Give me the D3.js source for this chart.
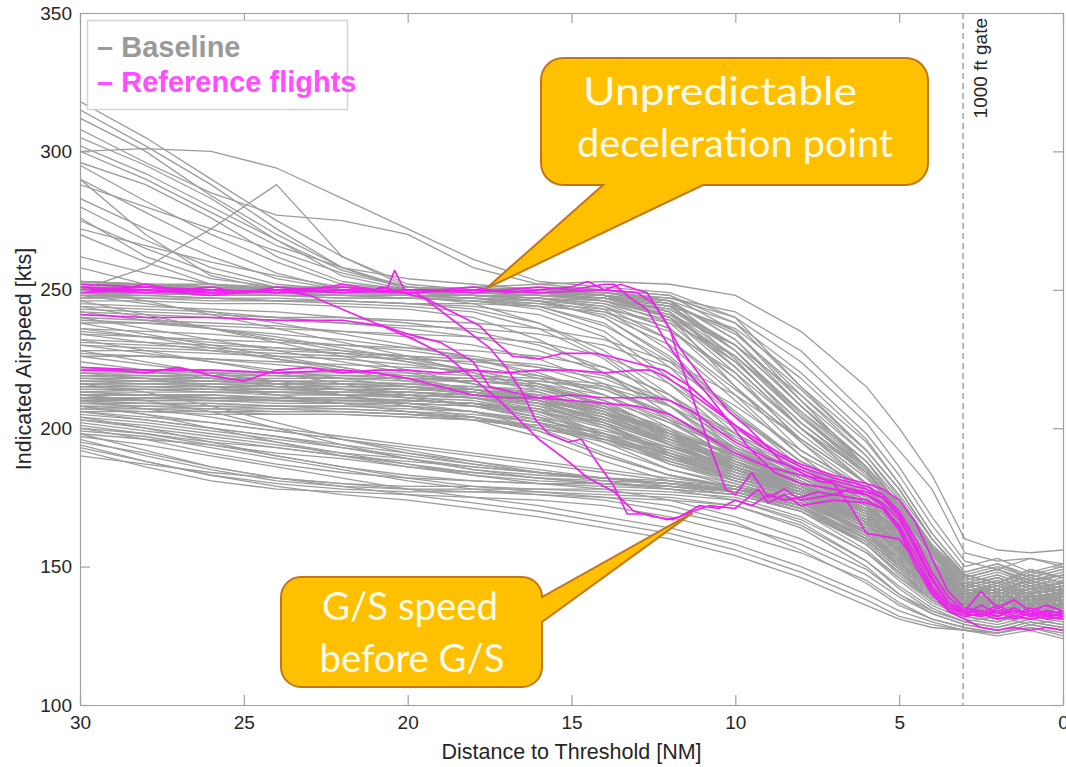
<!DOCTYPE html>
<html>
<head>
<meta charset="utf-8">
<script src="https://cdn.jsdelivr.net/npm/d3@7"></script>
<style>
  html, body { margin: 0; padding: 0; background: #fff; }
  svg { display: block; }
</style>
</head>
<body>
<svg id="chart" width="1066" height="767"></svg>
<script>
// Distance grid (NM to threshold) shared by the baseline traces
const gridNM = [30, 28, 26, 24, 22, 20, 18, 16, 14, 12, 10, 8, 6, 5, 4, 3, 2, 1, 0];

// Baseline flights: indicated airspeed (kts) at each gridNM point
const baselineHigh = [
  [318,305,290,275,262,252,250,250,249,245,225,200,180,165,150,141,143,140,145],
  [312,300,284,270,258,251,250,251,250,248,235,210,186,172,157,146,149,145,148],
  [305,295,283,268,255,250,249,248,247,240,220,195,175,160,148,139,136,140,137],
  [300,301,300,294,283,272,261,253,251,249,240,215,192,178,160,147,150,146,149],
  [295,282,270,260,252,250,250,249,246,238,218,198,180,168,152,142,139,143,140],
  [290,278,266,256,250,249,248,247,244,232,212,190,172,160,147,138,141,137,139],
  [250,258,272,288,262,251,250,249,248,242,222,200,180,166,150,140,137,141,138],
  [280,268,258,252,250,250,250,250,249,246,228,205,185,170,154,143,146,142,144],
  [275,265,256,251,250,249,248,246,240,225,205,188,175,163,150,140,138,135,139],
  [270,260,252,250,250,251,250,249,247,243,230,208,188,172,156,145,148,144,147],
  [300,290,278,266,258,254,252,250,248,242,222,200,182,170,155,144,141,145,142],
  [308,296,285,277,275,270,258,252,250,246,232,210,190,175,158,147,144,148,146],
  [262,256,252,250,250,250,251,250,250,248,238,215,195,180,162,148,151,147,150],
  [258,252,250,251,250,250,249,249,248,245,235,212,190,176,160,147,144,149,146],
  [290,270,255,250,249,249,248,247,245,236,215,195,178,165,150,140,143,138,141],
  [283,272,262,254,250,250,250,249,249,247,242,228,205,192,178,155,152,153,151],
  [296,288,276,262,253,250,251,252,253,252,248,235,215,200,183,160,156,155,156],
  [276,262,254,251,250,250,249,248,246,240,226,206,186,172,157,146,143,147,144],
  [315,302,288,272,258,250,249,249,248,244,228,204,184,170,154,143,146,142,144],
  [288,280,272,264,256,251,250,249,247,241,224,202,183,170,154,143,140,144,141],
  [272,266,260,255,251,250,250,249,248,244,230,208,188,174,158,146,149,145,147],
  [302,292,280,268,257,251,249,248,247,242,226,204,185,171,155,144,141,145,142]
];

const baselineCruise = [
  [252,251,252,250,251,250,250,249,248,240,215,192,178,168,152,140,142,138,141],
  [250,250,249,250,249,250,248,247,243,228,205,186,174,165,150,139,136,140,137],
  [249,248,249,248,248,247,246,243,235,218,198,182,172,162,148,138,141,137,139],
  [247,248,247,247,246,245,243,238,228,212,192,180,170,160,146,136,134,138,135],
  [253,252,251,251,250,250,249,249,249,246,232,208,186,172,156,144,147,143,146],
  [251,250,250,249,249,248,245,238,226,210,194,182,172,163,150,140,137,141,138],
  [248,249,248,248,247,247,247,246,244,236,218,196,180,170,155,142,145,140,143],
  [250,251,250,250,250,249,249,248,247,244,236,218,196,180,162,148,151,146,149],
  [246,246,245,245,244,243,240,232,220,205,190,180,170,158,145,136,133,137,134],
  [252,252,251,250,250,250,250,250,248,242,224,202,184,172,156,144,141,145,142],
  [249,249,248,248,248,248,247,246,240,226,206,188,176,165,150,140,143,139,141],
  [251,251,250,250,249,249,248,247,246,240,222,200,182,170,154,142,139,143,140],
  [250,249,249,248,248,247,246,244,238,222,200,184,174,164,149,138,141,136,139],
  [248,248,247,246,246,245,244,241,233,216,196,183,173,162,148,138,135,139,136],
  [253,252,252,251,251,250,250,249,248,245,234,214,192,178,160,146,149,144,147],
  [247,247,246,246,245,244,242,236,225,208,190,180,168,157,144,135,138,134,136],
  [250,250,250,249,249,249,248,248,247,243,228,206,188,174,157,144,141,146,143],
  [249,250,249,249,248,248,247,245,241,230,210,190,178,167,152,141,144,140,142],
  [251,250,250,250,249,249,248,246,242,232,214,196,180,169,154,143,146,142,144],
  [249,249,248,248,247,247,246,245,243,238,226,204,186,173,157,145,142,147,144],
  [252,251,251,250,250,250,249,249,248,246,238,220,198,183,165,150,153,148,151],
  [250,250,249,249,248,248,247,244,237,224,204,188,177,166,151,141,138,142,139],
  [248,247,247,246,246,245,245,244,242,235,220,200,184,172,156,144,147,143,145],
  [251,251,250,250,250,249,249,248,246,241,230,212,192,178,160,147,144,149,146],
  [250,249,249,249,248,248,248,247,245,239,224,202,184,171,155,143,146,142,144],
  [253,252,251,251,251,250,250,249,249,247,240,224,202,186,168,152,149,153,150]
];

const baselineMid = [
  [244,243,242,240,238,236,233,228,220,208,192,180,170,160,146,137,140,136,138],
  [240,239,238,237,235,233,230,225,216,203,188,178,168,158,145,136,133,137,134],
  [236,235,234,232,230,228,225,220,212,200,186,177,167,157,144,135,138,134,136],
  [232,231,230,229,228,226,223,218,210,198,185,176,166,156,143,135,132,136,133],
  [228,228,227,226,225,223,220,215,208,196,184,176,166,156,143,134,137,133,135],
  [242,241,240,239,238,237,236,234,230,222,208,192,178,166,150,140,143,139,141],
  [238,238,237,236,235,234,233,231,226,216,200,186,174,164,149,139,136,140,137],
  [234,233,232,231,230,229,228,226,222,212,196,184,172,162,147,138,141,137,139],
  [230,229,228,227,226,225,224,222,218,208,193,182,172,162,147,137,135,139,136],
  [226,226,225,224,223,222,221,219,214,204,190,180,170,160,146,137,140,135,138],
  [245,244,243,242,240,238,235,230,222,212,198,186,176,166,151,141,138,142,139],
  [239,238,236,234,232,229,226,222,215,205,192,182,172,162,148,139,142,138,140],
  [235,233,231,229,227,224,221,216,208,197,186,178,170,160,147,138,135,139,136],
  [231,230,229,228,227,226,225,223,219,210,197,185,174,164,149,139,142,138,140],
  [227,226,225,223,221,219,216,212,206,196,186,179,171,161,147,137,134,138,135],
  [243,242,241,240,240,239,238,236,232,224,212,196,180,168,153,142,145,141,143]
];

const baselineSlope = [
  [238,234,230,226,222,218,214,210,205,198,190,182,170,160,147,138,141,137,140],
  [246,241,236,231,226,221,216,210,203,195,187,180,169,159,146,137,135,139,136],
  [232,228,224,220,216,212,208,203,198,192,185,178,167,157,145,137,140,136,138],
  [228,224,220,216,212,208,204,200,196,190,184,177,166,156,144,136,134,138,135],
  [250,246,241,236,231,226,220,214,207,199,190,182,171,161,148,139,142,138,140],
  [224,221,218,215,212,209,206,202,198,193,186,178,166,155,143,135,133,137,134],
  [242,239,236,233,229,225,221,216,210,202,192,183,172,162,149,140,143,139,141],
  [236,233,229,225,221,217,213,209,204,197,189,181,170,160,147,138,136,140,137],
  [248,245,242,238,234,230,225,219,212,203,193,184,173,163,150,141,144,140,142],
  [220,218,215,212,209,206,203,200,196,191,185,178,166,155,143,135,138,134,136],
  [230,227,224,221,218,215,212,208,203,196,188,180,169,158,146,137,135,139,136],
  [244,240,236,232,228,224,219,213,206,198,190,182,171,161,148,139,142,138,140],
  [226,223,220,217,214,211,208,204,199,193,186,179,168,158,146,137,135,139,136],
  [240,236,232,228,224,220,216,211,205,198,190,182,171,161,148,139,142,138,141],
  [234,231,228,225,222,218,214,210,205,198,191,183,172,162,149,140,138,142,139]
];

const baselineCore = [
  [220,220,219,219,218,218,217,215,210,198,186,178,168,158,146,138,141,137,139],
  [218,218,217,217,217,216,215,213,206,194,183,176,165,155,143,136,134,138,135],
  [216,216,216,215,215,214,213,210,202,190,181,174,163,153,142,135,138,134,136],
  [214,214,213,213,213,212,211,207,198,187,180,173,162,152,141,134,132,136,133],
  [212,212,212,211,211,210,209,204,195,185,179,172,160,150,140,134,137,133,135],
  [210,210,210,209,209,208,206,200,191,183,178,171,158,148,139,133,131,135,132],
  [208,208,207,207,206,205,203,197,188,181,177,170,156,146,138,133,136,132,134],
  [221,221,220,220,219,219,218,217,214,205,192,182,172,162,150,141,144,140,142],
  [219,219,218,218,218,217,217,216,212,202,189,180,170,160,148,139,137,141,138],
  [217,217,217,216,216,216,215,214,209,199,187,179,168,158,146,138,141,137,139],
  [215,215,215,214,214,214,213,211,205,195,185,178,166,156,145,137,135,139,136],
  [213,213,213,212,212,212,211,208,201,191,183,176,164,154,143,136,139,135,137],
  [211,211,211,210,210,210,209,205,197,188,181,175,163,153,142,135,133,137,134],
  [209,209,209,208,208,208,206,202,193,185,180,174,161,151,141,135,138,134,136],
  [207,207,206,206,206,205,204,199,190,183,179,173,160,150,140,134,132,136,133],
  [222,221,221,220,220,220,219,218,216,210,198,186,175,165,152,143,146,142,144],
  [220,219,219,219,218,218,218,217,215,208,196,184,174,164,151,142,140,144,141],
  [215,214,214,213,213,213,212,211,208,200,190,181,170,160,148,139,142,138,140],
  [211,210,210,210,209,209,208,206,202,194,186,179,168,158,146,138,136,140,137],
  [206,206,205,205,205,204,203,200,195,188,182,176,165,155,144,136,139,135,137],
  [213,214,214,213,212,211,210,206,198,189,182,176,162,150,140,134,132,136,133],
  [217,216,216,215,214,213,211,206,197,188,181,175,163,152,141,135,138,134,136],
  [209,209,208,208,207,206,204,199,190,183,178,172,158,147,138,132,130,134,131],
  [219,219,218,217,216,215,213,209,200,190,182,176,164,154,143,136,139,135,137],
  [212,212,211,211,210,210,209,207,203,196,188,180,169,159,147,139,137,141,138],
  [216,215,215,214,214,213,212,210,206,199,190,182,171,161,149,140,143,139,141],
  [210,211,211,210,210,209,208,204,196,187,181,175,162,151,141,135,133,137,134],
  [214,214,213,213,212,212,211,209,204,196,187,179,167,157,145,137,140,136,138],
  [208,207,207,206,206,205,204,201,196,189,183,177,166,156,145,137,135,139,136],
  [218,218,217,216,216,215,214,212,207,198,188,180,169,159,147,139,142,138,140],
  [221,220,220,219,219,218,217,215,209,197,185,177,166,156,144,137,140,136,138],
  [219,218,218,217,217,216,214,210,202,191,182,175,164,154,143,136,134,138,135],
  [217,217,216,216,215,215,214,212,207,198,188,179,168,158,146,138,141,137,139],
  [215,215,214,214,213,213,212,209,203,194,185,177,165,155,143,136,134,138,135],
  [213,212,212,211,211,210,209,206,200,192,184,177,166,156,145,137,140,136,138],
  [211,211,210,210,209,209,208,206,201,193,185,178,167,157,145,137,135,139,136],
  [209,208,208,207,207,206,205,202,196,189,182,176,165,155,144,136,139,135,137],
  [207,206,206,205,205,204,203,201,197,191,184,177,166,156,144,136,134,138,135],
  [216,216,215,215,214,214,213,211,206,197,188,180,169,159,147,139,142,138,140],
  [212,212,211,211,210,210,209,207,202,194,186,179,168,158,146,138,136,140,137],
  [218,217,217,216,216,215,214,211,204,194,185,178,167,157,145,137,140,136,138],
  [210,209,209,208,208,207,206,203,198,190,183,177,166,156,145,137,135,139,136]
];

const baselineLow = [
  [204,200,195,190,186,183,181,180,179,178,176,170,158,148,138,132,130,133,131],
  [200,196,191,187,184,182,181,180,180,179,177,172,160,150,140,134,136,132,134],
  [198,192,186,182,180,179,179,178,178,177,175,168,155,145,136,131,129,132,130],
  [196,190,185,181,179,178,178,178,177,176,174,166,152,142,134,130,128,131,129],
  [194,188,183,180,178,177,177,177,176,175,172,164,150,140,133,129,127,130,128],
  [202,199,196,193,190,187,184,182,181,180,178,174,163,153,142,135,138,134,136],
  [205,203,200,197,193,189,185,182,180,179,178,173,162,152,141,134,132,136,133],
  [192,186,181,178,177,176,175,174,172,168,162,155,145,137,131,128,126,129,127],
  [199,197,193,189,185,181,178,176,174,170,165,158,147,139,133,129,127,130,128],
  [203,201,198,195,191,187,183,180,178,174,168,160,149,140,134,130,132,129,131],
  [197,194,190,186,182,178,175,172,168,164,158,150,140,134,130,127,126,128,125],
  [201,198,194,190,186,182,179,177,175,172,166,156,144,136,131,128,126,129,127],
  [195,191,186,182,179,176,173,170,166,162,156,148,138,132,129,127,125,127,124],
  [206,204,202,199,196,192,188,184,181,178,174,167,155,146,137,132,134,131,133],
  [193,188,183,179,176,174,171,168,164,160,154,146,136,131,128,127,126,128,126],
  [206,203,200,197,194,191,188,185,182,179,176,170,159,149,139,133,136,132,134],
  [203,200,197,194,191,189,186,184,182,180,177,171,160,150,140,134,132,136,133],
  [200,198,195,193,190,188,186,184,182,180,177,171,160,150,140,134,137,133,135],
  [208,205,202,199,196,193,190,187,184,181,178,172,161,151,141,135,133,137,134],
  [190,187,184,182,180,178,177,176,175,174,172,165,152,143,135,130,128,131,129],
  [204,202,199,196,193,190,187,184,182,180,178,173,163,153,142,135,138,134,136],
  [198,196,194,191,189,186,184,182,180,178,176,170,158,148,138,132,130,134,131],
  [210,207,204,200,197,194,191,188,185,182,179,174,163,153,142,136,139,135,137],
  [212,210,206,200,194,189,185,183,182,181,179,174,162,152,141,135,138,134,136],
  [216,213,208,202,196,191,187,184,182,180,178,172,160,150,140,134,132,136,133],
  [208,205,200,195,190,186,183,181,180,179,177,171,159,149,139,133,136,132,134]
];

// Reference flights: [distance NM, indicated airspeed kts]
const referenceFlights = [
  [[30,251],[29,250],[28,252],[27,250],[26,251],[25,249],[24,251],[23,250],[22,252],[21,250],[20.6,251],[20.4,257],[20.1,250],[19,250],[18,251],[17,249],[16,250],[15,251],[14.5,253],[14,250],[13.5,252],[13,250],[12.7,249],[12.2,240],[11.7,229],[11.2,221],[10.7,213],[10.2,206],[9.6,200],[9,193],[8.6,188],[8,184],[7.5,181],[7,180],[6.5,178],[6,177],[5.5,175],[5,168],[4.5,156],[4,145],[3.5,137],[3,133],[2.5,134],[2,132],[1.5,134],[1,132],[0.5,133],[0,132]],
  [[30,249],[28,250],[26,248],[24,250],[22,249],[20,250],[18,249],[16,251],[15,250],[14,252],[13.7,252],[13.2,247],[12.7,243],[12.1,231],[11.5,221],[10.9,213],[10.3,204],[9.6,193],[8.8,184],[8,180],[7,178],[6,176],[5.5,172],[5,164],[4.5,152],[4,142],[3.5,135],[3,133],[2.5,136],[2,133],[1.5,135],[1,133],[0.5,134],[0,133]],
  [[30,252],[28,251],[26,250],[24,249],[22,250],[20,249],[18,250],[16,249],[14,250],[13,249],[12.5,245],[12,236],[11.8,228],[11.1,204],[10.3,178],[10,176],[9.5,184],[9,175],[8.5,178],[8,174],[7,176],[6,174],[5.5,171],[5,163],[4.5,150],[4,140],[3.5,134],[3,132],[2.5,133],[2,131],[1.5,132],[1,131],[0.5,132],[0,131]],
  [[30,250],[28,251],[26,249],[24,250],[22,251],[21,250],[20.8,251],[19.5,247],[18.5,238],[17.5,229],[17,222],[16.5,213],[16.1,203],[15.7,198],[15.1,195],[14.7,196],[14.3,189],[13.7,179],[13.3,169],[12.7,169],[12.1,167],[11.7,168],[11.1,172],[10.5,171],[10,174],[9.5,172],[9,176],[8.5,174],[8,175],[7.5,177],[7,176],[6.5,178],[6,176],[5.5,173],[5,167],[4.5,157],[4,146],[3.5,137],[3,134],[2.5,141],[2,135],[1.5,138],[1,134],[0.5,136],[0,134]],
  [[30,241],[28,240],[26,240],[24,239],[22,239],[20.8,237],[19.8,232],[18.8,226],[17.8,216],[17.2,210],[16.6,203],[16,196],[15.1,188],[14.5,182],[13.7,177],[13.1,170],[12.5,168],[11.9,167],[11.3,170],[10.8,172],[10,171],[9.3,178],[9,173],[8.5,176],[8,172],[7,174],[6,173],[5.5,171],[5,165],[4.5,154],[4,143],[3.5,136],[3,133],[2.5,132],[2,134],[1.5,131],[1,133],[0.5,131],[0,132]],
  [[30,250],[28,249],[26,250],[24,249],[22,250],[20.5,249],[19.8,249],[18.8,243],[17.8,237],[17.3,231],[16.8,226],[16,225],[15.3,227],[14.2,227],[13.2,224],[12.2,221],[11.5,216],[11,211],[10.3,204],[9.5,196],[9,192],[8,186],[7,182],[6,179],[5.5,176],[5,170],[4.5,160],[4,148],[3.5,139],[3,134],[2.5,133],[2,136],[1.5,133],[1,135],[0.5,133],[0,134]],
  [[30,221],[29,221],[28,220],[27,222],[26,219],[25,217],[24,221],[23,222],[22,220],[21,221],[20,221],[19,220],[18,221],[17,220],[16,221],[15,221],[14,220],[13,221],[12.6,221],[12.2,219],[11.5,214],[10.7,207],[10,201],[9.2,195],[8.5,190],[8,187],[7,183],[6,180],[5.5,178],[5,174],[4.5,166],[4,153],[3.5,141],[3,135],[2.5,134],[2,132],[1.5,135],[1,132],[0.5,134],[0,133]],
  [[30,222],[28,221],[26,221],[24,220],[22,221],[21,220],[20,218],[19,215],[18,212],[17,211],[16,211],[15,212],[14,211],[13,211],[12.5,211],[12,210],[11.3,206],[10.5,199],[10,195],[9,189],[8,185],[7,180],[6.5,172],[6,162],[5.5,161],[5,160],[4.5,152],[4,141],[3.5,134],[3,131],[2.5,128],[2,127],[1.5,128],[1,127],[0.5,128],[0,127]],
  [[30,251],[28,250],[26,249],[24,250],[23,248],[22,243],[21,238],[20,234],[19,231],[18,224],[17.5,215],[16.8,213],[16,211],[15,210],[14,209],[13,208],[12,205],[11,198],[10,191],[9,186],[8,183],[7,181],[6,178],[5.5,175],[5,169],[4.5,158],[4,146],[3.5,137],[3,133],[2.5,132],[2,135],[1.5,132],[1,134],[0.5,132],[0,133]]
];

const xTicks = [30, 25, 20, 15, 10, 5, 0];
const yTicks = [100, 150, 200, 250, 300, 350];
const gateNM = 3.05;

// ---- layout ----
const plot = { left: 80, right: 1063, top: 13, bottom: 705 };
const svg = d3.select("#chart");

const x = d3.scaleLinear().domain([30, 0]).range([plot.left, plot.right]);
const y = d3.scaleLinear().domain([100, 350]).range([plot.bottom, plot.top]);

svg.append("defs").append("clipPath").attr("id", "plotClip")
  .append("rect")
  .attr("x", plot.left).attr("y", plot.top)
  .attr("width", plot.right - plot.left).attr("height", plot.bottom - plot.top);

const line = d3.line().x(d => x(d[0])).y(d => y(d[1]));

// ---- baseline traces ----
const baseline = [].concat(baselineHigh, baselineCruise, baselineMid, baselineSlope, baselineCore, baselineLow)
  .map(tr => tr.map((s, i) => [gridNM[i], s]));

const lines = svg.append("g").attr("clip-path", "url(#plotClip)");

lines.append("g").selectAll("path").data(baseline).join("path")
  .attr("d", line)
  .attr("fill", "none")
  .attr("stroke", "#9c9c9c")
  .attr("stroke-width", 1.3)
  .attr("stroke-linejoin", "round");

// ---- reference flights ----
lines.append("g").selectAll("path").data(referenceFlights).join("path")
  .attr("d", line)
  .attr("fill", "none")
  .attr("stroke", "#ee22ee")
  .attr("stroke-width", 1.7)
  .attr("stroke-linejoin", "round");

// ---- 1000 ft gate ----
svg.append("line")
  .attr("x1", x(gateNM)).attr("x2", x(gateNM))
  .attr("y1", plot.top).attr("y2", plot.bottom)
  .attr("stroke", "#8c8c8c").attr("stroke-width", 1.2)
  .attr("stroke-dasharray", "6,4");

const font = "Liberation Sans, Arial, sans-serif";

svg.append("text")
  .attr("transform", `translate(${x(gateNM) + 24},18) rotate(-90)`)
  .attr("text-anchor", "end")
  .attr("font-family", font)
  .attr("font-size", 19)
  .attr("fill", "#262626")
  .text("1000 ft gate");

// ---- axes (ticks inside, box on all four sides) ----
const axisColor = "#a0a0a0";

function styleAxis(g) {
  g.select(".domain").attr("stroke", axisColor).attr("stroke-width", 1.2).attr("fill", "none");
  g.selectAll(".tick line").attr("stroke", axisColor).attr("stroke-width", 1.2);
  g.selectAll(".tick text").attr("fill", "#262626").attr("font-family", font).attr("font-size", 19);
}

svg.append("g").attr("transform", `translate(0,${plot.bottom})`)
  .call(d3.axisBottom(x).tickValues(xTicks).tickSizeInner(-10).tickSizeOuter(0).tickPadding(11).tickFormat(d3.format("d")))
  .call(styleAxis);
svg.append("g").attr("transform", `translate(0,${plot.top})`)
  .call(d3.axisTop(x).tickValues(xTicks).tickSizeInner(-10).tickSizeOuter(0).tickFormat(""))
  .call(styleAxis);
svg.append("g").attr("transform", `translate(${plot.left},0)`)
  .call(d3.axisLeft(y).tickValues(yTicks).tickSizeInner(-10).tickSizeOuter(0).tickPadding(8))
  .call(styleAxis);
svg.append("g").attr("transform", `translate(${plot.right},0)`)
  .call(d3.axisRight(y).tickValues(yTicks).tickSizeInner(-10).tickSizeOuter(0).tickFormat(""))
  .call(styleAxis);

svg.append("text")
  .attr("x", (plot.left + plot.right) / 2).attr("y", 759)
  .attr("text-anchor", "middle")
  .attr("font-family", font).attr("font-size", 21.5).attr("fill", "#262626")
  .text("Distance to Threshold [NM]");

svg.append("text")
  .attr("transform", `translate(31,${(plot.top + plot.bottom) / 2}) rotate(-90)`)
  .attr("text-anchor", "middle")
  .attr("font-family", font).attr("font-size", 21.5).attr("fill", "#262626")
  .text("Indicated Airspeed [kts]");

// ---- legend ----
const legend = svg.append("g");
legend.append("rect")
  .attr("x", 87.5).attr("y", 20.5).attr("width", 260).attr("height", 89)
  .attr("fill", "#fff").attr("stroke", "#d4d4d4").attr("stroke-width", 1.5);
legend.append("text")
  .attr("x", 97).attr("y", 57)
  .attr("font-family", font).attr("font-weight", "bold").attr("font-size", 29)
  .attr("fill", "#9a9a9a")
  .text("– Baseline");
legend.append("text")
  .attr("x", 97).attr("y", 92)
  .attr("font-family", font).attr("font-weight", "bold").attr("font-size", 29)
  .attr("fill", "#ff4dff")
  .text("– Reference flights");

// ---- callouts ----
function calloutBottom(b, r, base0, base1, tip) {
  // rounded box with a pointer leaving its bottom edge
  return `M${b.x0 + r},${b.y0} H${b.x1 - r} A${r},${r} 0 0 1 ${b.x1},${b.y0 + r}
    V${b.y1 - r} A${r},${r} 0 0 1 ${b.x1 - r},${b.y1} H${base1} L${tip[0]},${tip[1]} L${base0},${b.y1}
    H${b.x0 + r} A${r},${r} 0 0 1 ${b.x0},${b.y1 - r} V${b.y0 + r} A${r},${r} 0 0 1 ${b.x0 + r},${b.y0} Z`;
}
function calloutRight(b, r, base0, base1, tip) {
  // rounded box with a pointer leaving its right edge
  return `M${b.x0 + r},${b.y0} H${b.x1 - r} A${r},${r} 0 0 1 ${b.x1},${b.y0 + r}
    V${base0} L${tip[0]},${tip[1]} L${b.x1},${base1} V${b.y1 - r} A${r},${r} 0 0 1 ${b.x1 - r},${b.y1}
    H${b.x0 + r} A${r},${r} 0 0 1 ${b.x0},${b.y1 - r} V${b.y0 + r} A${r},${r} 0 0 1 ${b.x0 + r},${b.y0} Z`;
}

const calloutFill = "#ffc000", calloutStroke = "#c2761a";
const calloutFont = "Lato, 'Open Sans', sans-serif";

function calloutText(cx, baseY, width, str) {
  svg.append("text").attr("x", cx).attr("y", baseY).attr("text-anchor", "middle")
    .attr("font-family", calloutFont).attr("font-size", 39).attr("fill", "#fffbea")
    .attr("textLength", width).attr("lengthAdjust", "spacingAndGlyphs")
    .text(str);
}

const box1 = { x0: 541, y0: 58, x1: 928, y1: 185 };
svg.append("path")
  .attr("d", calloutBottom(box1, 22, 603, 703, [x(17.6), y(250.5)]))
  .attr("fill", calloutFill).attr("stroke", calloutStroke).attr("stroke-width", 2);
calloutText(720, 105, 274, "Unpredictable");
calloutText(735, 157, 316, "deceleration point");

const box2 = { x0: 281, y0: 577, x1: 542, y1: 687 };
svg.append("path")
  .attr("d", calloutRight(box2, 20, 597, 622, [x(11.3), y(169.5)]))
  .attr("fill", calloutFill).attr("stroke", calloutStroke).attr("stroke-width", 2);
calloutText(410, 620, 176, "G/S speed");
calloutText(412, 672, 185, "before G/S");
</script>
</body>
</html>
